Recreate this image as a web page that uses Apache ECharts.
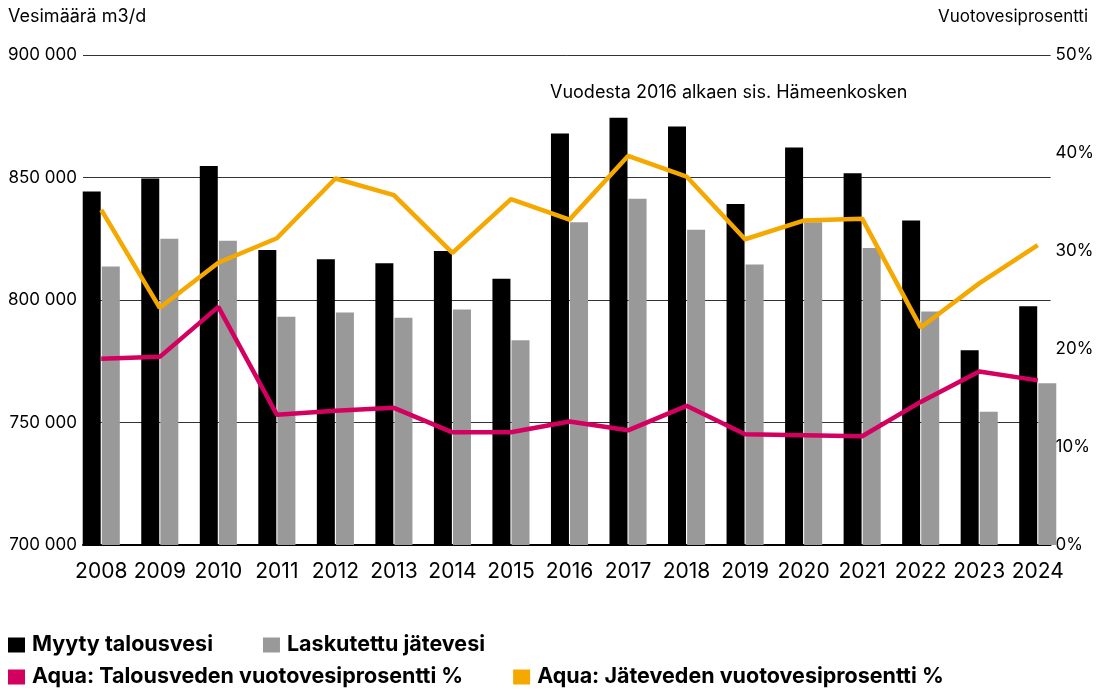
<!DOCTYPE html>
<html>
<head>
<meta charset="utf-8">
<script src="https://cdn.jsdelivr.net/npm/echarts@6/dist/echarts.min.js"></script>
<style>
  html, body { margin: 0; padding: 0; background: #fff; }
  #chart { width: 1097px; height: 691px; }
</style>
</head>
<body>
<div id="chart"></div>
<script>
// values
const years = ['2008', '2009', '2010', '2011', '2012', '2013', '2014', '2015', '2016',
  '2017', '2018', '2019', '2020', '2021', '2022', '2023', '2024']

const soldWater = [844300, 849600, 854700, 820400, 816600, 815000, 820000, 808700, 868000,
  874400, 870800, 839200, 862200, 851700, 832500, 779500, 797400]
const billedWastewater = [813700, 825000, 824200, 793200, 794900, 792800, 796100, 783600, 831700,
  841300, 828700, 814500, 831700, 821200, 795300, 754400, 766000]

const leakDrinking = [19.0, 19.2, 24.3, 13.3, 13.7, 14.0, 11.5, 11.5, 12.6,
  11.7, 14.2, 11.3, 11.2, 11.1, 14.6, 17.7, 16.8]
const leakWaste = [34.2, 24.2, 28.8, 31.3, 37.4, 35.7, 29.8, 35.3, 33.2,
  39.7, 37.6, 31.2, 33.1, 33.3, 22.2, 26.7, 30.6]

const names = [
  'Myyty talousvesi',
  'Laskutettu jätevesi',
  'Aqua: Talousveden vuotovesiprosentti %',
  'Aqua: Jäteveden vuotovesiprosentti %',
]
const colors = ['#000000', '#999999', '#d3005f', '#f5a800']

const font = 'Inter'
const chart = echarts.init(document.getElementById('chart'))

const fmtThousands = (v) => String(v).replace(/\B(?=(\d{3})+(?!\d))/g, ' ')

const legendText = { fontFamily: font, fontSize: 21.5, fontWeight: 'bold', color: '#000', padding: [0, 0, 0, 2] }

chart.setOption({
  animation: false,
  textStyle: { fontFamily: font, color: '#000' },
  title: [
    { text: 'Vesimäärä m3/d', left: 8, top: 8, padding: 0,
      textStyle: { fontFamily: font, fontSize: 18, fontWeight: 'normal', color: '#000' } },
    { text: 'Vuotovesiprosentti', right: 9, top: 8, padding: 0,
      textStyle: { fontFamily: font, fontSize: 17, fontWeight: 'normal', color: '#000' } },
    { text: 'Vuodesta 2016 alkaen sis. Hämeenkosken', left: 550, top: 84, padding: 0,
      textStyle: { fontFamily: font, fontSize: 18, fontWeight: 'normal', color: '#000' } },
  ],
  legend: [
    {
      data: names.slice(0, 2), left: 8, top: 634, padding: 0, icon: 'rect',
      itemWidth: 17, itemHeight: 15, itemGap: 50, selectedMode: false,
      textStyle: legendText,
    },
    {
      data: names.slice(2), left: 8, top: 666, padding: 0, icon: 'rect',
      itemWidth: 17, itemHeight: 15, itemGap: 50, selectedMode: false,
      textStyle: legendText,
    },
  ],
  grid: [
    // bars and lines
    { left: 72, right: 30, top: 55, bottom: 146 },
    // visible axes, gridlines
    { left: 83, right: 42, top: 55, bottom: 146 },
  ],
  xAxis: [
    {
      type: 'category', gridIndex: 0, data: years,
      axisLine: { show: false }, axisTick: { show: false },
      axisLabel: { fontFamily: font, fontSize: 21, color: '#000', margin: 16, interval: 0 },
    },
    {
      type: 'value', gridIndex: 1, min: 0, max: 1,
      axisLine: { show: true, onZero: false, lineStyle: { color: '#000', width: 2 } },
      axisTick: { show: false }, axisLabel: { show: false }, splitLine: { show: false },
    },
  ],
  yAxis: [
    { type: 'value', gridIndex: 0, min: 700000, max: 900000, show: false },
    { type: 'value', gridIndex: 0, min: 0, max: 50, show: false },
    {
      type: 'value', gridIndex: 1, position: 'left', min: 700000, max: 900000, interval: 50000,
      axisLine: { show: false }, axisTick: { show: false },
      axisLabel: { fontFamily: font, fontSize: 17, color: '#000', margin: 6, formatter: fmtThousands },
      splitLine: { lineStyle: { color: '#333', width: 1 } },
    },
    {
      type: 'value', gridIndex: 1, position: 'right', min: 0, max: 50, interval: 10,
      axisLine: { show: false }, axisTick: { show: false },
      axisLabel: { fontFamily: font, fontSize: 17, color: '#000', margin: 5, formatter: '{value}%' },
      splitLine: { show: false },
    },
  ],
  series: [
    {
      name: names[0], type: 'bar', xAxisIndex: 0, yAxisIndex: 0,
      data: soldWater, barWidth: 18, barGap: '6%',
      itemStyle: { color: colors[0] },
    },
    {
      name: names[1], type: 'bar', xAxisIndex: 0, yAxisIndex: 0,
      data: billedWastewater, barWidth: 18, barGap: '6%',
      itemStyle: { color: colors[1] },
    },
    {
      name: names[2], type: 'line', xAxisIndex: 0, yAxisIndex: 1,
      data: leakDrinking, showSymbol: false, z: 5,
      lineStyle: { color: colors[2], width: 4.5 }, itemStyle: { color: colors[2] },
    },
    {
      name: names[3], type: 'line', xAxisIndex: 0, yAxisIndex: 1,
      data: leakWaste, showSymbol: false, z: 5,
      lineStyle: { color: colors[3], width: 4.5 }, itemStyle: { color: colors[3] },
    },
  ],
})
</script>
</body>
</html>
